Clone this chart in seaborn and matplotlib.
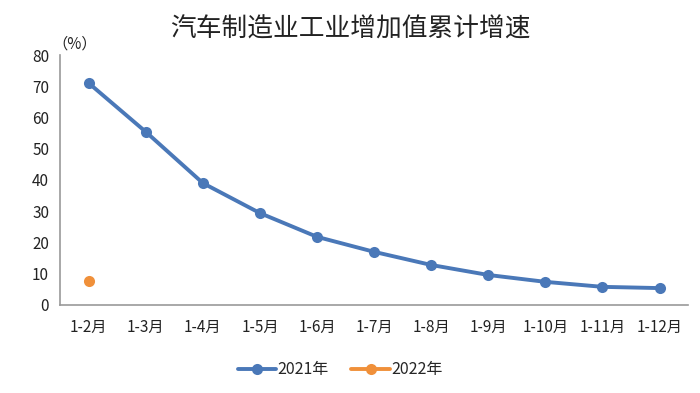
import pandas as pd
import numpy as np
import matplotlib
matplotlib.use("Agg")
import matplotlib.pyplot as plt
import seaborn as sns

# Dane
months = ["1-2月", "1-3月", "1-4月", "1-5月", "1-6月", "1-7月",
          "1-8月", "1-9月", "1-10月", "1-11月", "1-12月"]
growth_2021 = [71.0, 55.4, 39.0, 29.4, 21.8, 17.0, 12.8, 9.6, 7.4, 5.8, 5.4]
growth_2022 = [7.7]

df = pd.DataFrame({
    "month": months + months[:len(growth_2022)],
    "value": growth_2021 + growth_2022,
    "year": ["2021年"] * len(growth_2021) + ["2022年"] * len(growth_2022),
})

sns.set_style("white")
plt.rcParams['font.family'] = ['Noto Sans CJK SC', 'DejaVu Sans']

fig = plt.figure(figsize=(7, 3.93), dpi=100)
ax = fig.add_axes([0.086, 0.224, 0.897, 0.636])

palette = {"2021年": "#4A78B8", "2022年": "#F0903A"}
sns.lineplot(data=df, x="month", y="value", hue="year", palette=palette,
             marker="o", markersize=8, linewidth=2.8, markeredgewidth=0,
             sort=False, ax=ax)

ax.set_xlim(-0.5, len(months) - 0.5)
ax.set_ylim(0, 80)
ax.set_yticks(range(0, 81, 10))
ax.set_xlabel("")
ax.set_ylabel("")
ax.tick_params(axis="both", length=0, labelsize=11, colors="#222222")
ax.tick_params(axis="x", pad=10)
ax.tick_params(axis="y", pad=8)
for s in ["top", "right"]:
    ax.spines[s].set_visible(False)
for s in ["left", "bottom"]:
    ax.spines[s].set_color("#999999")
    ax.spines[s].set_linewidth(1.2)

fig.text(0.5, 0.925, "汽车制造业工业增加值累计增速", ha="center", va="center",
         fontsize=18.5, color="#222222")
fig.text(0.107, 0.887, "（%）", ha="center", va="center", fontsize=11, color="#222222")

ax.legend(loc="center", bbox_to_anchor=(0.446, -0.26), ncol=2,
          frameon=False, fontsize=11.5, handlelength=2.4, columnspacing=1.4,
          handletextpad=0.1)

fig.savefig("out.png", dpi=100)
